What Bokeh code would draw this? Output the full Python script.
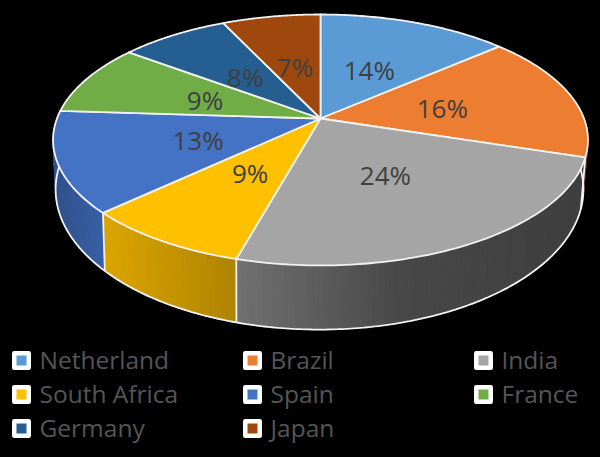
import numpy as np
from bokeh.plotting import figure
from bokeh.models import Range1d
from bokeh.core.properties import value
from bokeh.embed import file_html
from bokeh.resources import INLINE

countries = ["Netherland", "Brazil", "India", "South Africa", "Spain", "France", "Germany", "Japan"]
shares = [13.6, 16.3, 24.4, 8.7, 13.0, 9.2, 7.8, 7.0]
colors = ["#5b9bd5", "#ed7d31", "#a5a5a5", "#ffc000", "#4472c4", "#70ad47", "#255e91", "#9e480e"]

# perspective projection of the pie's disc onto the page
CX, CY, AX, BY, K = 320.0, 118.0, 263.5, 121.8, 0.171
BCX, BCY, BAX, BBY = 319.0, 165.0, 260.0, 136.0


def project(theta, r=1.0, base=False):
    u, v = r * np.sin(theta), r * np.cos(theta)
    w = 1 + K * v
    if base:
        return BCX + BAX * u / w, BCY - BBY * v / w
    return CX + AX * u / w, CY - BY * v / w


def shade(c, f):
    rgb = [int(c[i:i + 2], 16) for i in (1, 3, 5)]
    return "#%02x%02x%02x" % tuple(int(x * f) for x in rgb)


fr = np.cumsum([0] + shares) / sum(shares) * 2 * np.pi
starts, ends = fr[:-1], fr[1:]

p = figure(width=600, height=457, output_backend="svg", toolbar_location=None,
           x_range=Range1d(0, 600), y_range=Range1d(457, 0),
           background_fill_color="#000000", border_fill_color="#000000",
           min_border=0, outline_line_color=None, x_axis_location=None, y_axis_location=None)
p.grid.visible = False

# side wall, in narrow shaded strips
WALL_A, WALL_B = np.radians(80), np.radians(282)
xs, ys, fc = [], [], []
for s, e, c in zip(starts, ends, colors):
    a, b = max(s, WALL_A), min(e, WALL_B)
    if a >= b:
        continue
    n = max(2, int((b - a) / np.radians(1.0)))
    t = np.linspace(a, b, n + 1)
    for t0, t1 in zip(t[:-1], t[1:]):
        x0, y0 = project(t0)
        x1, y1 = project(t1)
        x2, y2 = project(t1, base=True)
        x3, y3 = project(t0, base=True)
        xs.append([x0, x1, x2, x3])
        ys.append([y0, y1, y2, y3])
        f = np.interp((x0 + x1) / 2, [55, 105, 240, 400, 590], [0.72, 0.86, 0.68, 0.44, 0.38])
        fc.append(shade(c, f))
p.patches(xs, ys, fill_color=fc, line_color=fc, line_width=1.2)

# base rim and the wall's seams
t = np.linspace(WALL_A, WALL_B, 300)
bx, by = project(t, base=True)
p.line(bx, by, line_color="#f2f2f2", line_width=1.8)
for e in ends:
    if WALL_A < e < WALL_B:
        x0, y0 = project(e)
        x1, y1 = project(e, base=True)
        p.line([x0, x1], [y0, y1], line_color="#f2f2f2", line_width=1.8)

# top surface
tx, ty = [], []
for s, e in zip(starts, ends):
    t = np.linspace(s, e, 80)
    x, y = project(t)
    tx.append([CX] + list(x))
    ty.append([CY] + list(y))
p.patches(tx, ty, fill_color=colors, line_color="#f2f2f2", line_width=1.8, line_join="round")

# value labels
mid = (starts + ends) / 2
lx, ly = project(mid, r=0.48)
p.text(lx, ly, text=[f"{round(v)}%" for v in shares], text_font=value("Open Sans"), text_font_size="26px",
       text_color="#404040", text_align="center", text_baseline="middle", y_offset=1)

# legend
col_x = [21, 252, 483]
row_y = [360, 394, 428]
leg_x = [col_x[i % 3] for i in range(len(countries))]
leg_y = [row_y[i // 3] for i in range(len(countries))]
p.rect(leg_x, leg_y, width=14.5, height=14.5, fill_color=colors, line_color="#ffffff", line_width=4.5,
       line_join="round")
p.text(leg_x, leg_y, text=countries, text_font=value("Open Sans"), text_font_size="24.5px",
       text_color="#555555", text_align="left", text_baseline="middle", x_offset=18, y_offset=-1.5)

html = file_html(p, INLINE)
html = html.replace("<head>", "<head><style>html,body{background:#000000;overflow:hidden}</style>", 1)
open("out.html", "w").write(html)
